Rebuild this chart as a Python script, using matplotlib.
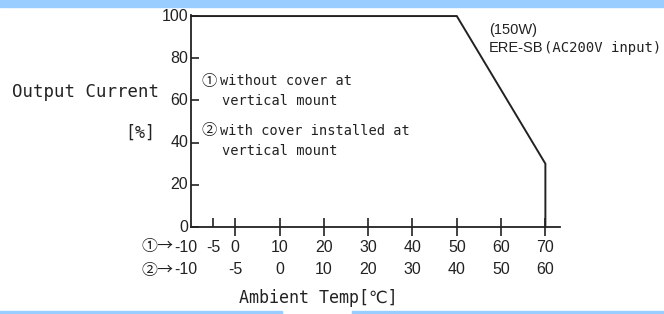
import matplotlib
matplotlib.use("Agg")
import matplotlib.pyplot as plt
from matplotlib.patches import Rectangle
from matplotlib.transforms import offset_copy

# derating curve
temps = [-10, 50, 70, 70]
load = [100, 100, 30, 0]

# axis ticks / labels
x_ticks = [0, 10, 20, 30, 40, 50, 60, 70]
row1_pos = [-5, 0, 10, 20, 30, 40, 50, 60, 70]
row1_labels = ["-5", "0", "10", "20", "30", "40", "50", "60", "70"]
row2_pos = [0, 10, 20, 30, 40, 50, 60, 70]
row2_labels = ["-5", "0", "10", "20", "30", "40", "50", "60"]
y_ticks = [0, 20, 40, 60, 80, 100]

W, H = 664, 314
NUM = ["Liberation Sans", "DejaVu Sans"]
MONO = ["DejaVu Sans Mono", "DejaVu Sans", "Noto Sans CJK JP"]
CJK = ["Noto Sans CJK JP", "DejaVu Sans"]
INK = "#222222"
NSIZE = 11.5


def px(x, y):
    return x / W, 1 - y / H


def main():
    fig = plt.figure(figsize=(W / 100, H / 100), dpi=100)

    # blue bands of the page
    band = "#99ccff"
    fig.patches.append(Rectangle((0, 1 - 7 / H), 1, 7 / H, transform=fig.transFigure, color=band))
    fig.patches.append(Rectangle((0, 0), 282 / W, 3 / H, transform=fig.transFigure, color=band))
    fig.patches.append(Rectangle((352 / W, 0), 1, 3 / H, transform=fig.transFigure, color=band))

    left, bottom = 191 / W, (H - 227) / H
    ax = fig.add_axes([left, bottom, (560 - 191) / W, (227 - 15) / H])
    ax.set_xlim(-10, 73.3)
    ax.set_ylim(0, 100.5)
    for s in ["top", "right"]:
        ax.spines[s].set_visible(False)
    for s in ["left", "bottom"]:
        ax.spines[s].set_linewidth(1.3)
        ax.spines[s].set_color(INK)

    ax.plot(temps, load, color=INK, lw=1.4, clip_on=False, solid_joinstyle="miter")

    ax.set_xticks(x_ticks)
    ax.set_xticks([-5], minor=True)
    ax.tick_params(axis="x", which="major", direction="inout", length=13, width=1.2,
                   color=INK, labelbottom=False)
    ax.tick_params(axis="x", which="minor", direction="in", length=6.5, width=1.2,
                   color=INK, labelbottom=False)
    ax.set_yticks(y_ticks)
    ax.tick_params(axis="y", direction="in", length=6, width=1.2, color=INK,
                   labelleft=False)

    # y tick labels
    ytr = offset_copy(ax.get_yaxis_transform(), fig=fig, x=-3, y=0, units="dots")
    for v in y_ticks:
        ax.text(0, v, str(v), transform=ytr, ha="right", va="center",
                fontsize=NSIZE, family=NUM, color=INK)

    # two rows of x tick labels
    tr1 = offset_copy(ax.get_xaxis_transform(), fig=fig, x=0, y=-20, units="dots")
    tr2 = offset_copy(ax.get_xaxis_transform(), fig=fig, x=0, y=-43, units="dots")
    for p, l in zip(row1_pos, row1_labels):
        ax.text(p, 0, l, transform=tr1, ha="center", va="center", fontsize=NSIZE,
                family=NUM, color=INK)
    for p, l in zip(row2_pos, row2_labels):
        ax.text(p, 0, l, transform=tr2, ha="center", va="center", fontsize=NSIZE,
                family=NUM, color=INK)
    for tr, mark in [(tr1, "①"), (tr2, "②")]:
        ax.text(-10, 0, "-10", transform=offset_copy(tr, fig=fig, x=6, y=0, units="dots"),
                ha="right", va="center", fontsize=NSIZE, family=NUM, color=INK)
        ax.text(-10, 0, mark + "→", transform=offset_copy(tr, fig=fig, x=-18, y=0, units="dots"),
                ha="right", va="center", fontsize=11.5, family=CJK, color=INK)

    # axis titles
    fig.text(*px(12, 92), "Output Current", ha="left", va="center", fontsize=12.5,
             family=MONO, color=INK)
    fig.text(*px(155, 133), "[%]", ha="right", va="center", fontsize=12,
             family=MONO, color=INK)
    fig.text(*px(318, 298), "Ambient Temp[℃]", ha="center", va="center", fontsize=12,
             family=MONO, color=INK)

    # notes
    notes = [(201, 81, "①", "without cover at"),
             (201, 131, "②", "with cover installed at")]
    for x, y, mark, txt in notes:
        fig.text(*px(x, y), mark, ha="left", va="center", fontsize=11,
                 family=CJK, color=INK)
        fig.text(*px(x + 19, y), txt, ha="left", va="center", fontsize=9.8,
                 family=MONO, color=INK)
        fig.text(*px(x + 21, y + 20), "vertical mount", ha="left", va="center",
                 fontsize=9.8, family=MONO, color=INK)

    fig.text(*px(489, 30), "(150W)", ha="left", va="center", fontsize=10.5,
             family=NUM, color=INK)
    fig.text(*px(489, 48), "ERE-SB", ha="left", va="center", fontsize=10.5,
             family=NUM, color=INK)
    fig.text(*px(544, 48), "(AC200V input)", ha="left", va="center", fontsize=10,
             family=MONO, color=INK)

    fig.savefig("out.png", dpi=100)


if __name__ == "__main__":
    main()
